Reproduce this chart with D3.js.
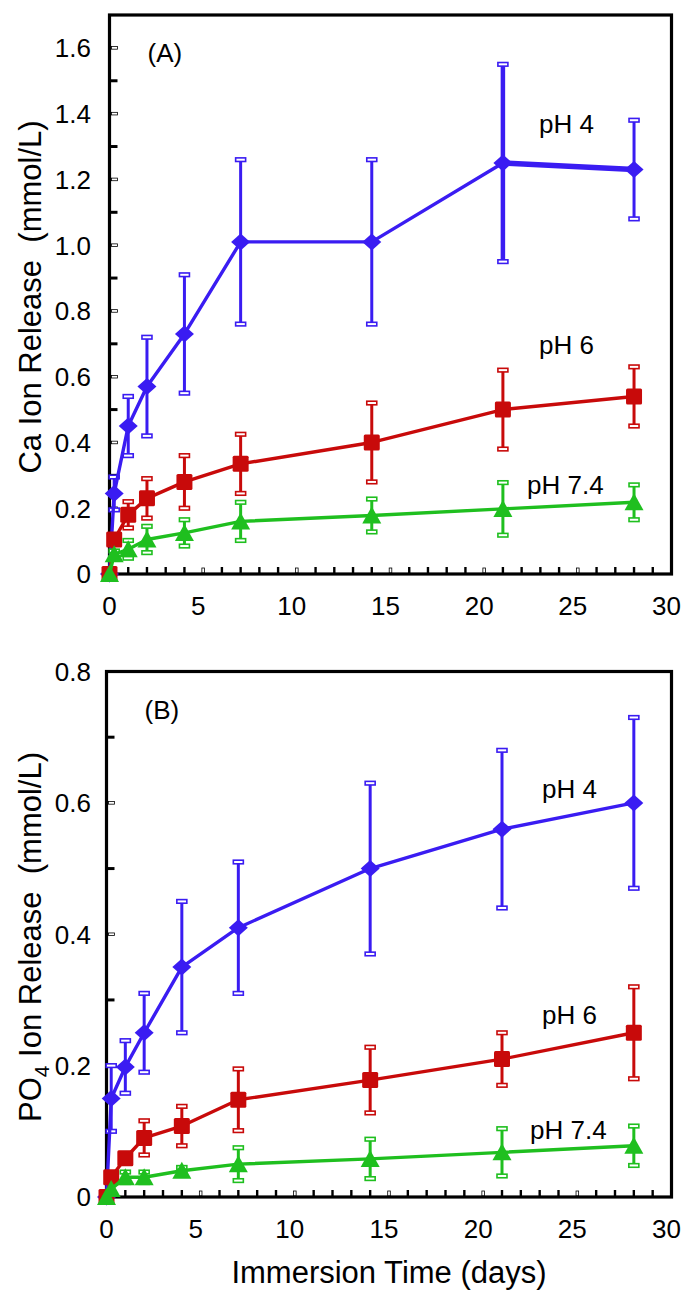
<!DOCTYPE html>
<html>
<head>
<meta charset="utf-8">
<script src="https://cdn.jsdelivr.net/npm/d3@7"></script>
<style>
  html, body { margin: 0; padding: 0; background: #fff; }
  svg { display: block; font-family: 'Liberation Sans', Arial, sans-serif; }
  text { white-space: pre; }
</style>
</head>
<body>
<svg id="chart" width="693" height="1301"></svg>
<script>
// ---------------- data ----------------
const days = [0, 0.25, 1, 2, 4, 7, 14, 21, 28];

const caPH4     = [0, 0.245, 0.45, 0.57, 0.73, 1.01, 1.01, 1.25, 1.23];
const caPH4Err  = [0, 0.05, 0.09, 0.15, 0.18, 0.25, 0.25, 0.30, 0.15];
const caPH6     = [0, 0.105, 0.18, 0.23, 0.28, 0.335, 0.40, 0.50, 0.54];
const caPH6Err  = [0, 0.01, 0.04, 0.06, 0.08, 0.09, 0.12, 0.12, 0.09];
const caPH74    = [0, 0.06, 0.075, 0.105, 0.125, 0.16, 0.178, 0.198, 0.218];
const caPH74Err = [0, 0.01, 0.027, 0.04, 0.04, 0.058, 0.05, 0.08, 0.053];

const poPH4     = [0, 0.15, 0.198, 0.25, 0.35, 0.41, 0.50, 0.56, 0.60];
const poPH4Err  = [0, 0.05, 0.04, 0.06, 0.10, 0.10, 0.13, 0.12, 0.13];
const poPH6     = [0, 0.03, 0.059, 0.09, 0.108, 0.148, 0.178, 0.21, 0.25];
const poPH6Err  = [0, 0, 0, 0.026, 0.03, 0.047, 0.05, 0.04, 0.07];
const poPH74    = [0, 0.012, 0.03, 0.03, 0.04, 0.05, 0.058, 0.068, 0.078];
const poPH74Err = [0, 0, 0.008, 0.008, 0.005, 0.025, 0.03, 0.036, 0.03];

const seriesNames = ["pH 4", "pH 6", "pH 7.4"];
const caTicks  = [0, 0.2, 0.4, 0.6, 0.8, 1.0, 1.2, 1.4, 1.6];
const poTicks  = [0, 0.2, 0.4, 0.6, 0.8];
const dayTicks = [0, 5, 10, 15, 20, 25, 30];
const panelNames = ["(A)", "(B)"];
const xTitle = "Immersion Time (days)";

// ---------------- style ----------------
const COLORS = ["#3a1cf2", "#c80a0a", "#1fbf1f"];
const SHAPES = ["diamond", "square", "triangle"];
const svg = d3.select("#chart");

function markerPath(shape) {
  if (shape === "diamond") return "M0,-8.5L9.5,0L0,8.5L-9.5,0Z";
  if (shape === "square") return "M-8,-6.5Q-8,-8 -6.5,-8L6.5,-8Q8,-8 8,-6.5L8,6.5Q8,8 6.5,8L-6.5,8Q-8,8 -8,6.5Z";
  return "M0,-9L9.5,8L-9.5,8Z";
}

function drawPanel(cfg) {
  const x = d3.scaleLinear().domain([0, 30]).range([cfg.x0, cfg.x1]);
  const y = d3.scaleLinear().domain([0, cfg.yMax]).range([cfg.yBottom, cfg.yTop]);
  const g = svg.append("g");

  // ticks (inside the frame)
  const minorX = d3.range(1, 30).filter(d => d % 5 !== 0);
  g.selectAll(".mx").data(minorX).join("line")
    .attr("x1", d => x(d)).attr("x2", d => x(d))
    .attr("y1", cfg.yBottom).attr("y2", cfg.yBottom - 7)
    .attr("stroke", "#000").attr("stroke-width", 2.4);
  g.selectAll(".Mx").data([5, 10, 15, 20, 25]).join("rect")
    .attr("x", d => x(d) - 1.3).attr("y", cfg.yBottom - 6).attr("width", 2.6).attr("height", 5)
    .attr("fill", "#fff").attr("stroke", "#000").attr("stroke-width", 0.8);

  const minorY = d3.range(0.1, cfg.yMax - 0.05, 0.2);
  g.selectAll(".my").data(minorY).join("line")
    .attr("x1", cfg.x0).attr("x2", cfg.x0 + 8)
    .attr("y1", d => y(d)).attr("y2", d => y(d))
    .attr("stroke", "#000").attr("stroke-width", 3);
  g.selectAll(".My").data(cfg.yTicks.filter(d => d > 0 && d < cfg.yMax - 0.01)).join("rect")
    .attr("x", cfg.x0 + 2).attr("y", d => y(d) - 1.3).attr("width", 6).attr("height", 2.6)
    .attr("fill", "#fff").attr("stroke", "#000").attr("stroke-width", 0.8);

  // frame
  g.append("rect")
    .attr("x", cfg.x0).attr("y", cfg.yTop)
    .attr("width", cfg.x1 - cfg.x0).attr("height", cfg.yBottom - cfg.yTop)
    .attr("fill", "none").attr("stroke", "#000").attr("stroke-width", 3.2);

  // tick labels
  const fmt = d => d === 0 ? "0" : d3.format(".1f")(d);
  g.selectAll(".yl").data(cfg.yTicks).join("text")
    .attr("x", 91).attr("y", d => y(d)).attr("dy", "0.36em")
    .attr("text-anchor", "end").attr("font-size", 26).text(fmt);
  g.selectAll(".xl").data(dayTicks).join("text")
    .attr("x", d => x(d) - (d === 0 ? 0 : 5)).attr("y", cfg.yBottom + 41)
    .attr("text-anchor", "middle").attr("font-size", 26).text(d => d);

  // y title
  const t = g.append("text")
    .attr("transform", `translate(41,${cfg.titleY}) rotate(-90)`)
    .attr("text-anchor", "middle").attr("font-size", 31);
  cfg.title(t);

  // panel label
  g.append("text").attr("x", cfg.x0 + 38).attr("y", cfg.yTop + 47)
    .attr("font-size", 26).text(cfg.panelName);

  // series (blue, red, green — green on top)
  cfg.series.forEach((s, i) => {
    const pts = days.map((d, k) => ({ d, v: s.vals[k], e: s.errs[k] }));
    const col = COLORS[i];
    const sg = g.append("g");
    // error bars
    const eb = pts.filter(p => p.e > 0);
    sg.selectAll(".eb").data(eb).join("line")
      .attr("x1", p => x(p.d)).attr("x2", p => x(p.d))
      .attr("y1", p => y(p.v - p.e)).attr("y2", p => y(p.v + p.e))
      .attr("stroke", col).attr("stroke-width", p => (s.thick && p.d === 21) ? 4.5 : 3);
    const caps = eb.flatMap(p => [p.v - p.e, p.v + p.e].map(v => ({ d: p.d, v })));
    sg.selectAll(".cap").data(caps).join("rect")
      .attr("x", p => x(p.d) - 5).attr("y", p => y(p.v) - 1.8)
      .attr("width", 10).attr("height", 3.6)
      .attr("fill", "#fff").attr("stroke", col).attr("stroke-width", 1.6);
    // line
    const line = d3.line().x(p => x(p.d)).y(p => y(p.v));
    sg.append("path").datum(pts).attr("d", line)
      .attr("fill", "none").attr("stroke", col).attr("stroke-width", 3.4)
      .attr("stroke-linejoin", "round");
    if (s.thick) {
      sg.append("path").datum(pts.slice(-2)).attr("d", line)
        .attr("fill", "none").attr("stroke", col).attr("stroke-width", 5.5);
    }
    // markers
    sg.selectAll(".mk").data(pts).join("path")
      .attr("transform", p => `translate(${x(p.d)},${y(p.v)})`)
      .attr("d", markerPath(SHAPES[i])).attr("fill", col);
  });

  // series labels
  cfg.labels.forEach((L, i) => {
    g.append("text").attr("x", L[0]).attr("y", L[1]).attr("dy", "0.36em")
      .attr("font-size", 26).text(seriesNames[i]);
  });
}

drawPanel({
  x0: 109.5, x1: 671.5, yTop: 15, yBottom: 574, yMax: 1.7,
  yTicks: caTicks, titleY: 297, panelName: panelNames[0],
  title: t => t.text("Ca Ion Release  (mmol/L)"),
  series: [
    { vals: caPH4, errs: caPH4Err, thick: true },
    { vals: caPH6, errs: caPH6Err },
    { vals: caPH74, errs: caPH74Err }
  ],
  labels: [[539, 124], [539, 345], [527, 485]]
});

drawPanel({
  x0: 106.5, x1: 671.5, yTop: 671.5, yBottom: 1197, yMax: 0.8,
  yTicks: poTicks, titleY: 937, panelName: panelNames[1],
  title: t => {
    t.append("tspan").text("PO");
    t.append("tspan").attr("font-size", 21).attr("dy", 8).text("4");
    t.append("tspan").attr("dy", -8).text(" Ion Release  (mmol/L)");
  },
  series: [
    { vals: poPH4, errs: poPH4Err },
    { vals: poPH6, errs: poPH6Err },
    { vals: poPH74, errs: poPH74Err }
  ],
  labels: [[542, 789], [542, 1015], [530, 1130]]
});

svg.append("text").attr("x", 389).attr("y", 1283)
  .attr("text-anchor", "middle").attr("font-size", 31).text(xTitle);
</script>
</body>
</html>
